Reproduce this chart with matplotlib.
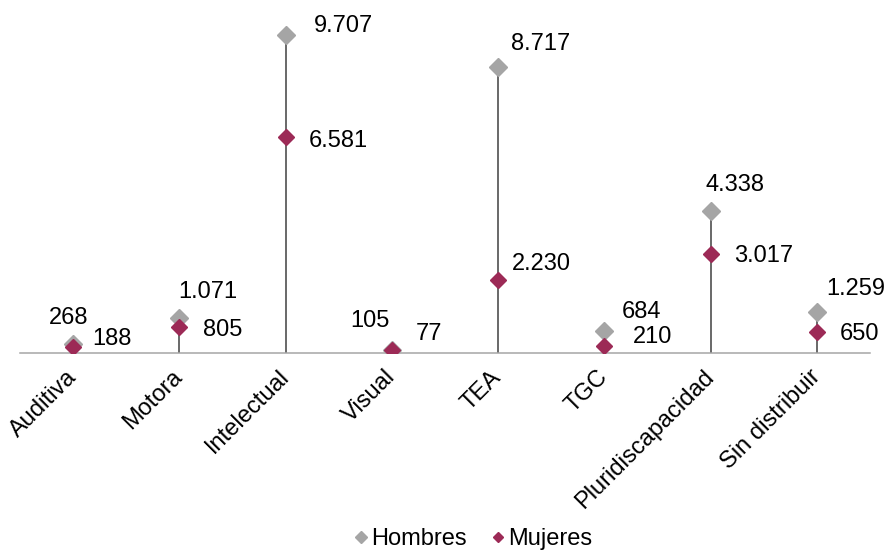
import matplotlib.pyplot as plt
import numpy as np

plt.rcParams['font.family'] = ['Liberation Sans', 'DejaVu Sans']

# Data
categorias = ['Auditiva', 'Motora', 'Intelectual', 'Visual', 'TEA', 'TGC',
              'Pluridiscapacidad', 'Sin distribuir']
hombres = [268, 1071, 9707, 105, 8717, 684, 4338, 1259]
mujeres = [188, 805, 6581, 77, 2230, 210, 3017, 650]

# Label offsets in pixels (center x, baseline y) relative to each marker
off_hombres = [(-4, 20), (28, 20), (58, 3), (-22, 23), (42, 17), (37, 13),
               (24, 20), (39, 17)]
off_mujeres = [(39, 2), (43, -9), (53, -10), (37, 10), (43, 10), (48, 3),
               (53, -8), (43, -8)]

GRIS = '#a5a5a5'
GRANATE = '#9c2a56'
FS = 17


def fmt(v):
    # Spanish thousands separator
    return f'{v:,}'.replace(',', '.')


fig = plt.figure(figsize=(8.88, 5.51), dpi=100)
ax = fig.add_axes([20 / 888, 198 / 551, 850 / 888, 327.6 / 551])

x = np.arange(len(categorias))

# High-low lines from the axis up to the top value
ax.vlines(x, 0, np.maximum(hombres, mujeres), color='#404040', lw=1.1,
          zorder=1)

# Markers
ax.plot(x, hombres, linestyle='None', marker='D', ms=9, color=GRIS,
        label='Hombres', zorder=3)
ax.plot(x, mujeres, linestyle='None', marker='D', ms=8, color=GRANATE,
        label='Mujeres', zorder=4)

# Data labels
for i in range(len(categorias)):
    ax.annotate(fmt(hombres[i]), (x[i], hombres[i]), xytext=off_hombres[i],
                textcoords='offset pixels', ha='center', va='baseline',
                fontsize=FS, color='black', annotation_clip=False)
    ax.annotate(fmt(mujeres[i]), (x[i], mujeres[i]), xytext=off_mujeres[i],
                textcoords='offset pixels', ha='center', va='baseline',
                fontsize=FS, color='black', annotation_clip=False)

# Axes styling
ax.set_xlim(-0.5, len(categorias) - 0.5)
ax.set_ylim(0, 10000)
for s in ['top', 'right', 'left']:
    ax.spines[s].set_visible(False)
ax.spines['bottom'].set_color('#a6a6a6')
ax.spines['bottom'].set_linewidth(1.1)
ax.set_yticks([])
ax.set_xticks(x)
ax.set_xticklabels(categorias, fontsize=FS)
ax.tick_params(axis='x', length=0, pad=15)
plt.setp(ax.get_xticklabels(), rotation=45, ha='right', va='center',
         rotation_mode='anchor')

# Legend
fig.legend(loc='center', bbox_to_anchor=(0.533, 0.022), ncol=2,
           frameon=False, fontsize=FS, handlelength=0.6, handletextpad=0.15,
           columnspacing=1.0, markerscale=0.7)

fig.savefig('out.png', dpi=100)
